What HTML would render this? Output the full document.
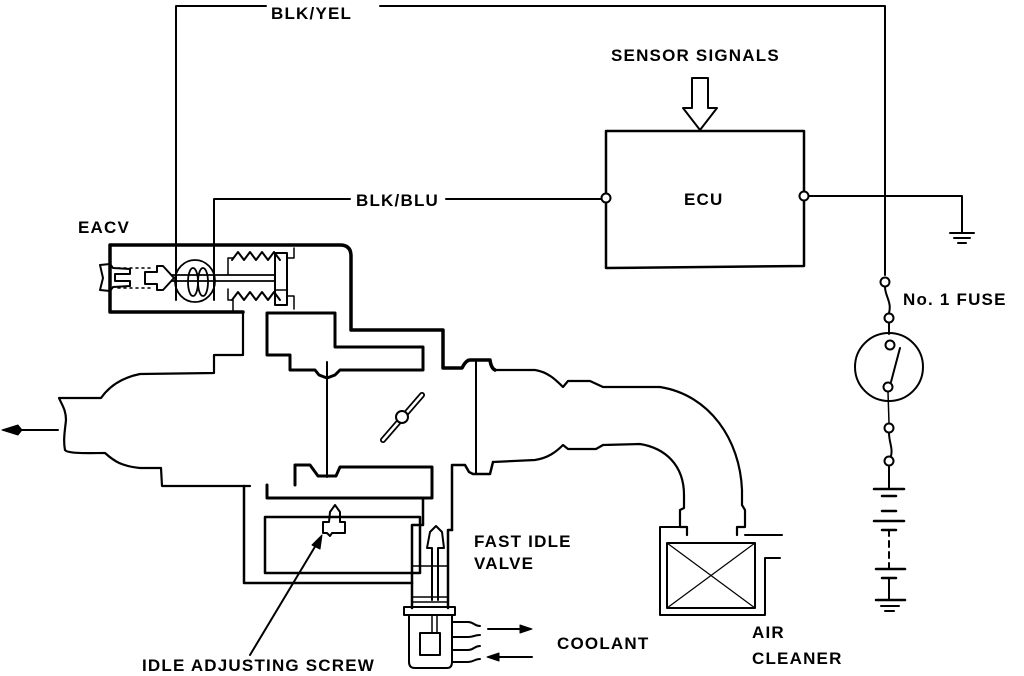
<!DOCTYPE html>
<html><head><meta charset="utf-8"><style>
html,body{margin:0;padding:0;background:#fff;width:1024px;height:676px;overflow:hidden}
svg{display:block}
text{font-family:"Liberation Sans",sans-serif;font-weight:bold;font-size:17px;letter-spacing:1.2px;fill:#000}
</style></head><body>
<svg width="1024" height="676" viewBox="0 0 1024 676" fill="none" stroke="#000" stroke-linejoin="round" stroke-linecap="round">
<!-- BLK/YEL wire -->
<polyline points="176,300 176,6 266,6" stroke-width="2"/>
<polyline points="380,6 885,6 885,275" stroke-width="2"/>
<text x="271" y="19" stroke="none">BLK/YEL</text>
<!-- Sensor signals -->
<text x="611" y="61" stroke="none">SENSOR SIGNALS</text>
<polygon points="692,78 708,78 708,108 717,108 700,130 683,108 692,108" stroke-width="2"/>
<!-- ECU -->
<polygon points="606,131 804,131 804,266 606,268" stroke-width="2.5"/>
<text x="684" y="205" stroke="none">ECU</text>
<circle cx="606" cy="198" r="4.5" fill="#fff" stroke-width="2"/>
<circle cx="804" cy="196" r="4.5" fill="#fff" stroke-width="2"/>
<!-- BLK/BLU -->
<line x1="601" y1="199" x2="446" y2="199" stroke-width="2"/>
<text x="356" y="206" stroke="none">BLK/BLU</text>
<polyline points="350,199 214,199 214,300" stroke-width="2"/>
<!-- ECU to ground -->
<polyline points="809,196 962,196 962,232" stroke-width="2"/>
<line x1="950" y1="233" x2="974" y2="233" stroke-width="2"/>
<line x1="954" y1="238" x2="970" y2="238" stroke-width="2"/>
<line x1="958" y1="243" x2="966" y2="243" stroke-width="2"/>
<!-- fuse -->
<circle cx="885" cy="282" r="4.5" fill="#fff" stroke-width="2"/>
<path d="M885,287 C885,296 892,302 889,313" stroke-width="2"/>
<circle cx="889" cy="318" r="4.5" fill="#fff" stroke-width="2"/>
<text x="903" y="305" stroke="none">No. 1 FUSE</text>
<line x1="889" y1="323" x2="889" y2="334" stroke-width="2"/>
<circle cx="889" cy="367" r="34" stroke-width="2"/>
<circle cx="890" cy="345" r="4.5" fill="#fff" stroke-width="2"/>
<circle cx="888" cy="387" r="4.5" fill="#fff" stroke-width="2"/>
<line x1="891" y1="382" x2="900" y2="348" stroke-width="2"/>
<line x1="888" y1="392" x2="889" y2="423" stroke-width="1.5"/>
<circle cx="889" cy="428" r="4.5" fill="#fff" stroke-width="2"/>
<path d="M889,433 C889,442 893,448 891,456" stroke-width="2"/>
<circle cx="889" cy="461" r="4.5" fill="#fff" stroke-width="2"/>
<line x1="889" y1="466" x2="889" y2="489" stroke-width="2"/>
<line x1="874" y1="489" x2="904" y2="489" stroke-width="2.5"/>
<line x1="882" y1="496" x2="896" y2="496" stroke-width="2.5"/>
<line x1="882" y1="511" x2="896" y2="511" stroke-width="2.5"/>
<line x1="874" y1="521" x2="904" y2="521" stroke-width="2.5"/>
<line x1="882" y1="530" x2="896" y2="530" stroke-width="2.5"/>
<line x1="889" y1="530" x2="889" y2="569" stroke-width="2" stroke-dasharray="6,5"/>
<line x1="876" y1="569" x2="905" y2="569" stroke-width="2.5"/>
<line x1="882" y1="578" x2="896" y2="578" stroke-width="2.5"/>
<line x1="889" y1="578" x2="889" y2="600" stroke-width="2"/>
<line x1="876" y1="600" x2="905" y2="600" stroke-width="2.5"/>
<line x1="881" y1="606" x2="899" y2="606" stroke-width="2"/>
<line x1="885" y1="611" x2="894" y2="611" stroke-width="2"/>
<!-- EACV -->
<text x="78" y="233" stroke="none">EACV</text>
<path d="M243,312 L110,312 L110,245 L340,245 Q351,245 351,256 L351,330 L443,330 L443,368 L462,368 Q466,360 470,360 L490,360 Q491,368 495,370" stroke-width="3.5"/>
<path d="M243,312 L243,355 L214,355 L214,373 L140,374 C120,378 108,388 101,398 L59,398 C62,405 66,410 66,420 C65,430 63,440 65,450 C68,454 90,453 105,453 C115,462 122,466 140,468 L161,468 L162,486 L250,486" stroke-width="2.2"/>
<polygon points="267,313 335,313 335,347 423,347 423,370 340,370 335,375 327,378 319,375 315,370 290,370 290,355 267,355" stroke-width="3"/>
<!-- EACV internals -->
<path d="M100,265 L110,264 L113,268 L130,269 L130,274 L115,274 L115,281 L130,281 L130,286 L113,287 L110,291 L100,290 L103,278 Z" stroke-width="2"/>
<line x1="118" y1="268" x2="150" y2="268" stroke-width="1.5" stroke-dasharray="2,4"/>
<line x1="118" y1="288" x2="150" y2="288" stroke-width="1.5" stroke-dasharray="2,4"/>
<path d="M145,272 L157,272 L157,266 L163,266 L174,278 L163,290 L157,290 L157,284 L145,284 Z" stroke-width="2"/>
<line x1="172" y1="275" x2="275" y2="275" stroke-width="1.8"/>
<line x1="172" y1="281" x2="275" y2="281" stroke-width="1.8"/>
<ellipse cx="195" cy="281" rx="20" ry="21" stroke-width="1.8"/>
<ellipse cx="193" cy="282" rx="5" ry="14" stroke-width="1.8"/>
<ellipse cx="203" cy="282" rx="5" ry="14" stroke-width="1.8"/>
<polyline points="228,274 228,258 233,258" stroke-width="1.5"/>
<path d="M232,260 l6,-8 l6,8 l6,-8 l6,8 l6,-8 l6,8 l6,-8 l6,8" stroke-width="2"/>
<path d="M232,300 l6,-8 l6,8 l6,-8 l6,8 l6,-8 l6,8 l6,-8 l6,8" stroke-width="2"/>
<polyline points="228,289 228,300 233,300 233,312" stroke-width="1.5"/>
<rect x="275" y="253" width="12" height="52" stroke-width="2"/>
<line x1="275" y1="290" x2="287" y2="290" stroke-width="1.5"/>
<polyline points="287,258 294,258 294,248" stroke-width="1.5"/>
<polyline points="287,296 294,296 294,309" stroke-width="1.5"/>
<!-- throttle -->
<line x1="327" y1="362" x2="327" y2="477" stroke-width="2"/>
<line x1="476" y1="360" x2="476" y2="474" stroke-width="2"/>
<line x1="383" y1="440" x2="422" y2="395" stroke-width="6"/>
<line x1="383" y1="440" x2="422" y2="395" stroke="#fff" stroke-width="2.5"/>
<circle cx="402" cy="417" r="6" fill="#fff" stroke-width="2"/>
<!-- lower throttle blocks -->
<polyline points="295,485 295,465 310,465 318,476 336,476 340,467 432,467 432,498 267,498 267,485" stroke-width="3"/>
<polyline points="452,530 452,465 465,465 469,472 473,474 490,474 493,462" stroke-width="2.5"/>
<!-- elbow -->
<path d="M495,370 L535,370 C548,372 556,380 563,387 L568,381 L590,381 L603,387 L660,387 C710,395 740,440 742,490 L742,505 L745,510 L745,527 L737,527 L737,535" stroke-width="2.2"/>
<path d="M493,462 L535,460 C548,458 556,452 563,445 L568,449 L596,449 L603,445 L640,444 C665,448 684,465 684,495 L684,508 L680,510 L680,527 L687,527 L687,535" stroke-width="2.2"/>
<!-- air cleaner -->
<polyline points="680,527 660,527 660,615 765,615 765,558 780,558" stroke-width="2"/>
<line x1="745" y1="535" x2="782" y2="535" stroke-width="2"/>
<rect x="667" y="543" width="88" height="65" stroke-width="2"/>
<line x1="667" y1="543" x2="755" y2="608" stroke-width="1.2"/>
<line x1="755" y1="543" x2="667" y2="608" stroke-width="1.2"/>
<text x="752" y="638" stroke="none">AIR</text>
<text x="752" y="664" stroke="none">CLEANER</text>
<!-- lower bypass -->
<polyline points="244,486 244,583 412,583" stroke-width="2.5"/>
<rect x="265" y="517" width="155" height="56" stroke-width="2.5"/>
<polygon points="335,505 340,512 340,522 345,522 345,533 332,533 330,536 327,533 323,533 323,522 329,522 330,512" stroke-width="2"/>
<line x1="250" y1="655" x2="316" y2="545" stroke-width="2"/>
<polygon points="322,535 312,545 320,549" fill="#000" stroke-width="1"/>
<text x="142" y="671" stroke="none">IDLE ADJUSTING SCREW</text>
<!-- fast idle valve -->
<polyline points="412,583 412,525 423,525 423,498" stroke-width="2.5"/>
<polyline points="452,530 448,530 448,608" stroke-width="2.5"/>
<line x1="412" y1="583" x2="412" y2="608" stroke-width="2.5"/>
<line x1="412" y1="566" x2="448" y2="566" stroke-width="1.5"/>
<line x1="412" y1="597" x2="448" y2="597" stroke-width="1.5"/>
<line x1="412" y1="602" x2="448" y2="602" stroke-width="1.5"/>
<path d="M432,600 L432,548 L427,548 L430,532 L436,526 L442,532 L444,548 L438,548 L438,600" stroke-width="2"/>
<rect x="404" y="607" width="51" height="8" stroke-width="2"/>
<path d="M409,615 L409,662 Q409,668 415,668 L447,668 Q452,668 452,662 L452,615" stroke-width="2"/>
<line x1="432" y1="615" x2="432" y2="633" stroke-width="1.5"/>
<line x1="437" y1="615" x2="437" y2="633" stroke-width="1.5"/>
<rect x="420" y="633" width="20" height="22" stroke-width="2"/>
<path d="M452,622 L468,622 C474,622 474,626 480,626" stroke-width="2"/>
<path d="M452,637 L468,637 C474,637 474,635 480,635" stroke-width="2"/>
<path d="M452,650 L468,650 C474,650 474,646 480,646" stroke-width="2"/>
<path d="M452,662 L468,662 C474,662 474,659 480,659" stroke-width="2"/>
<line x1="488" y1="629" x2="522" y2="629" stroke-width="2"/>
<polygon points="532,629 520,625 520,633" fill="#000" stroke-width="1"/>
<line x1="497" y1="657" x2="532" y2="657" stroke-width="2"/>
<polygon points="487,657 499,653 499,661" fill="#000" stroke-width="1"/>
<text x="474" y="547" stroke="none">FAST IDLE</text>
<text x="474" y="569" stroke="none">VALVE</text>
<text x="557" y="649" stroke="none">COOLANT</text>
<!-- outlet arrow -->
<line x1="58" y1="430" x2="14" y2="430" stroke-width="2"/>
<polygon points="2,430 18,425 22,430 18,435" fill="#000" stroke-width="1"/>
</svg>
</body></html>
